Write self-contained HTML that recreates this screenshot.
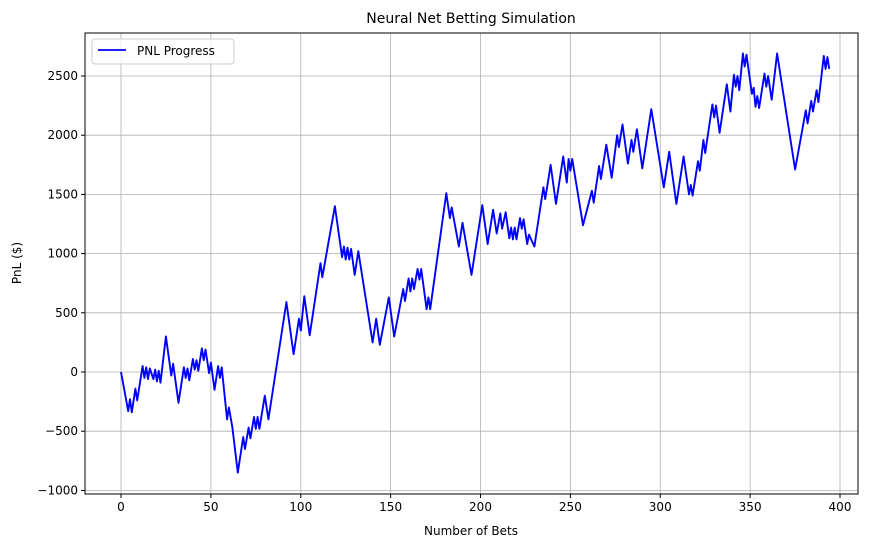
<!DOCTYPE html>
<html><head><meta charset="utf-8"><style>
body{margin:0;background:#fff;font-family:"Liberation Sans","DejaVu Sans",sans-serif;}
svg text{font-family:"DejaVu Sans","Liberation Sans",sans-serif;}
</style></head><body>
<svg id="chart" width="871" height="547" xmlns="http://www.w3.org/2000/svg">
<rect width="871" height="547" fill="#fff"/>
<g id="grid"></g>
<g id="ticks"></g>
<g id="series"></g>
<rect x="85" y="33" width="773" height="461" fill="none" stroke="#000" stroke-width="1"/>
<text x="471" y="23" text-anchor="middle" font-size="14">Neural Net Betting Simulation</text>
<text x="471" y="535" text-anchor="middle" font-size="12">Number of Bets</text>
<text x="21" y="263" text-anchor="middle" font-size="12" transform="rotate(-90 21 263)">PnL ($)</text>
<g>
<rect x="92" y="39" width="142" height="25" fill="#fff" fill-opacity="0.8" stroke="#ccc" rx="3"/>
<line x1="98" y1="50" x2="126" y2="50" stroke="#0000ff" stroke-width="1.8"/>
<text x="137" y="55" font-size="12">PNL Progress</text>
</g>
</svg>
<script>
const xTicks=[0,50,100,150,200,250,300,350,400];
const yTicks=[-1000,-500,0,500,1000,1500,2000,2500];
const yTickLabels=["\u22121000","\u2212500","0","500","1000","1500","2000","2500"];
const bets=[0,4,5,6,8,9,12,13,14,15,16,18,19,20,21,22,25,28,29,32,35,36,37,38,40,41,42,43,45,46,47,49,50,52,54,55,56,59,60,62,65,68,69,71,72,74,75,76,77,80,82,92,96,99,100,102,105,111,112,119,123,124,125,126,127,128,130,132,140,142,144,149,152,157,158,160,161,162,163,165,166,167,170,171,172,181,183,184,188,190,195,201,204,207,209,211,212,214,216,217,218,219,220,222,223,224,226,227,230,235,236,238,239,242,246,248,249,250,251,257,262,263,266,267,270,273,276,277,279,282,284,285,287,290,295,302,305,309,313,316,317,318,321,322,324,325,329,330,331,333,337,339,341,342,343,344,346,347,348,351,352,353,354,355,358,359,360,362,365,375,381,382,384,385,387,388,391,392,393,394];
const pnl=[0,-330,-230,-340,-140,-240,50,-50,40,-60,30,-60,20,-80,10,-90,300,-30,70,-260,40,-50,30,-70,110,20,100,10,200,100,190,-10,80,-150,50,-50,40,-400,-300,-470,-850,-550,-650,-470,-560,-380,-480,-380,-480,-200,-400,590,150,450,350,640,310,920,800,1400,970,1060,950,1050,950,1040,820,1020,250,450,230,630,300,700,600,790,680,790,700,870,780,870,530,630,530,1510,1300,1390,1060,1260,820,1410,1080,1370,1170,1340,1210,1350,1130,1220,1120,1220,1120,1300,1210,1290,1080,1160,1060,1560,1460,1650,1750,1420,1820,1600,1800,1700,1800,1240,1530,1430,1740,1630,1920,1640,2000,1900,2090,1760,1960,1860,2050,1720,2220,1560,1860,1420,1820,1500,1580,1490,1780,1700,1960,1850,2260,2150,2250,2020,2430,2200,2510,2410,2500,2380,2690,2580,2680,2350,2400,2240,2330,2230,2520,2410,2500,2300,2690,1710,2210,2100,2290,2200,2380,2280,2670,2560,2660,2560];
const L=85,R=858,T=33,B=494;
function sx(v){return 121+v*(719/400);}
function sy(v){return 372-v*0.1184;}
const NS="http://www.w3.org/2000/svg";
const grid=document.getElementById('grid'),ticks=document.getElementById('ticks'),series=document.getElementById('series');
function mk(tag,attrs,parent){const e=document.createElementNS(NS,tag);for(const k in attrs)e.setAttribute(k,attrs[k]);parent.appendChild(e);return e;}
xTicks.forEach(t=>{const x=sx(t);
 const g=mk('line',{x1:x,x2:x,y1:T,y2:B,stroke:'#b0b0b0','stroke-width':0.8},grid);
 
 
 const tk=mk('line',{x1:x,x2:x,y1:B,y2:B+4,stroke:'#000'},ticks);
 
 
 const tx=mk('text',{x:x,y:B+17,'text-anchor':'middle','font-size':12},ticks);
 tx.textContent=t;
 
 
});
yTicks.forEach((t,i)=>{const y=sy(t);
 const g=mk('line',{x1:L,x2:R,y1:y,y2:y,stroke:'#b0b0b0','stroke-width':0.8},grid);
 
 
 const tk=mk('line',{x1:L-4,x2:L,y1:y,y2:y,stroke:'#000'},ticks);
 
 
 const tx=mk('text',{x:L-7,y:y+4,'text-anchor':'end','font-size':12},ticks);
 tx.textContent=yTickLabels[i];
 
 
});
const pts=bets.map((b,i)=>sx(b).toFixed(1)+','+sy(pnl[i]).toFixed(1)).join(' ');
const pl=mk('polyline',{points:pts,fill:'none',stroke:'#0000ff','stroke-width':1.9,'stroke-linejoin':'round'},series);


</script>
</body></html>
